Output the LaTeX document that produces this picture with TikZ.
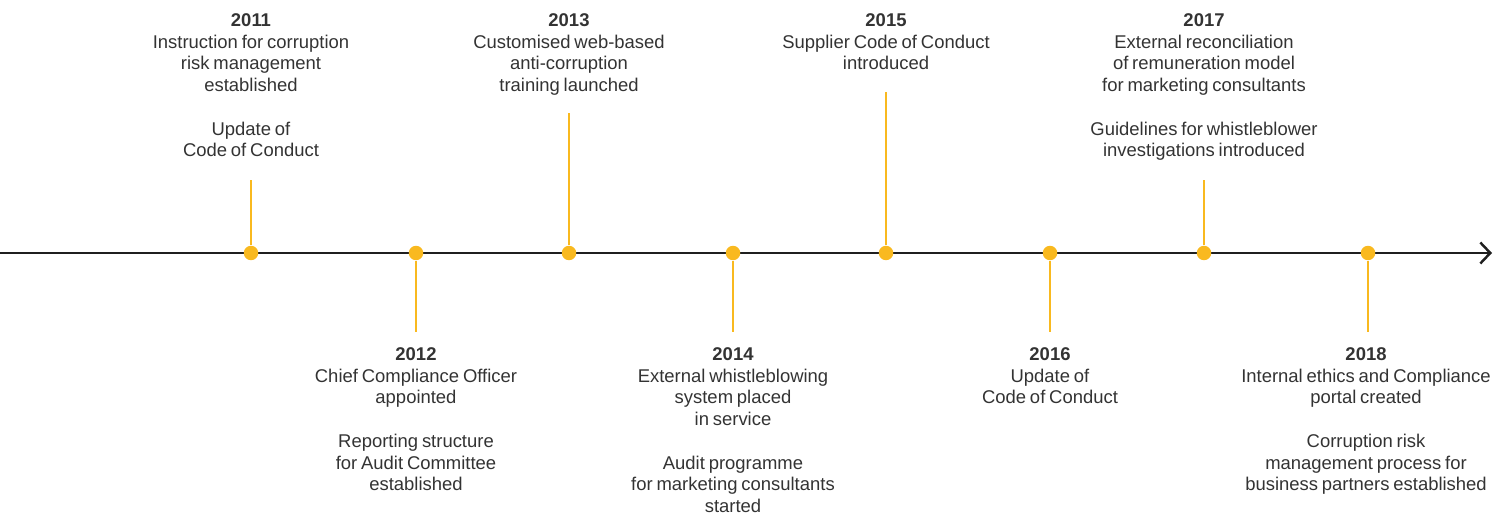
\documentclass[tikz,border=0pt]{standalone}
\usepackage{fontspec}
\setmainfont{Liberation Sans}[WordSpace=0.75]
\usepackage{xcolor}
\usepackage{tikz}
\usetikzlibrary{arrows.meta,positioning}
\definecolor{milestone}{HTML}{F9B91F}
\definecolor{inkgray}{HTML}{333333}

\begin{document}
\begin{tikzpicture}[
x=0.02cm,y=0.02cm,
dot/.style={circle,fill=milestone,inner sep=0pt,minimum size=0.29cm},
stem/.style={draw=milestone,line width=1.6pt},
axis/.style={-{Straight Barb[length=0.2cm,width=0.42cm,line width=1.4pt]},line width=1.6pt,draw=black!88},
event/.style={align=center,inner sep=0pt,text=inkgray,anchor=north,font=\fontsize{10.5}{12.4}\selectfont}
]
\useasboundingbox (0,-264) rectangle (1494,253);
% time axis
\coordinate (start) at (0,0);
\coordinate (end) at (1492,0);
\draw[axis] (start)--(end);
% milestones on the axis
\node[dot] (d11) at (251,0) {};
\node[dot] (d12) at (416,0) {};
\node[dot] (d13) at (569,0) {};
\node[dot] (d14) at (733,0) {};
\node[dot] (d15) at (886,0) {};
\node[dot] (d16) at (1050,0) {};
\node[dot] (d17) at (1204,0) {};
\node[dot] (d18) at (1368,0) {};
% stem ends
\coordinate (e11) at (251,73);
\coordinate (e12) at (416,-79);
\coordinate (e13) at (569,140);
\coordinate (e14) at (733,-79);
\coordinate (e15) at (886,161);
\coordinate (e16) at (1050,-79);
\coordinate (e17) at (1204,73);
\coordinate (e18) at (1368,-79);
\draw[stem] (d11)--(e11);
\draw[stem] (d12)--(e12);
\draw[stem] (d13)--(e13);
\draw[stem] (d14)--(e14);
\draw[stem] (d15)--(e15);
\draw[stem] (d16)--(e16);
\draw[stem] (d17)--(e17);
\draw[stem] (d18)--(e18);
% texts above
\node[event] (t11) at (251,240) {\textbf{2011}\\Instruction for corruption\\risk management\\established\\[12.4pt]Update of\\Code of Conduct};
\node[event] (t13) at (569,240) {\textbf{2013}\\Customised web-based\\anti-corruption\\training launched};
\node[event] (t15) at (886,240) {\textbf{2015}\\Supplier Code of Conduct\\introduced};
\node[event] (t17) at (1204,240) {\textbf{2017}\\External reconciliation\\of remuneration model\\for marketing consultants\\[12.4pt]Guidelines for whistleblower\\investigations introduced};
% texts below
\node[event] (t12) at (416,-94) {\textbf{2012}\\Chief Compliance Officer\\appointed\\[12.4pt]Reporting structure\\for Audit Committee\\established};
\node[event] (t14) at (733,-94) {\textbf{2014}\\External whistleblowing\\system placed\\in service\\[12.4pt]Audit programme\\for marketing consultants\\started};
\node[event] (t16) at (1050,-94) {\textbf{2016}\\Update of\\Code of Conduct};
\node[event] (t18) at (1366,-94) {\textbf{2018}\\Internal ethics and Compliance\\portal created\\[12.4pt]Corruption risk\\management process for\\business partners established};
\end{tikzpicture}
\end{document}
